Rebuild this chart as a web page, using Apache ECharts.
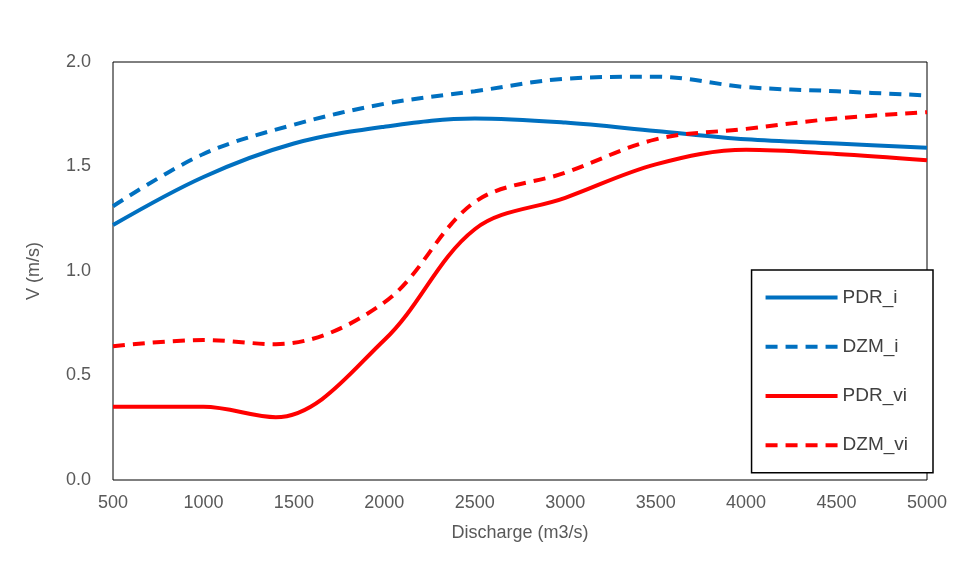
<!DOCTYPE html>
<html>
<head>
<meta charset="utf-8">
<script src="https://cdn.jsdelivr.net/npm/echarts@6/dist/echarts.min.js"></script>
<style>html,body{margin:0;padding:0;background:#fff}#c{width:957px;height:580px}</style>
</head>
<body>
<div id="c"></div>
<script>
// 流量 (m3/s)
const discharge = [500, 1000, 1500, 2000, 2500, 3000, 3500, 4000, 4500, 5000]
const dischargeVi = [500, 1000, 1400, 2000, 2500, 3000, 3500, 4000, 4500, 5000]
const pdrI = [1.22, 1.45, 1.61, 1.69, 1.73, 1.71, 1.67, 1.63, 1.61, 1.59]
const dzmI = [1.31, 1.56, 1.70, 1.80, 1.86, 1.92, 1.93, 1.88, 1.86, 1.84]
const pdrVi = [0.35, 0.35, 0.30, 0.67, 1.20, 1.35, 1.51, 1.58, 1.56, 1.53]
const dzmVi = [0.64, 0.67, 0.65, 0.85, 1.33, 1.47, 1.63, 1.68, 1.73, 1.76]

const chart = echarts.init(document.getElementById('c'))

function line(name, xs, ys, color, dashed) {
  return {
    name, type: 'line', smooth: 0.35, symbol: 'none',
    data: xs.map((x, i) => [x, ys[i]]),
    lineStyle: { color, width: 4, type: dashed ? [12, 8] : 'solid' },
    itemStyle: { color }
  }
}

chart.setOption({
  animation: false,
  textStyle: { fontFamily: 'Liberation Sans, Arial' },
  grid: { left: 113, right: 30, top: 62, bottom: 100, show: true, borderColor: '#000', borderWidth: 1 },
  legend: {
    orient: 'vertical', right: 24, top: 270, itemGap: 30, itemWidth: 72, itemHeight: 24,
    padding: [18, 25, 18, 12], borderColor: '#000', borderWidth: 1.5, backgroundColor: '#fff',
    itemStyle: { opacity: 0 }, lineStyle: { width: 4 },
    textStyle: { fontSize: 19, color: '#404040' },
    data: ['PDR_i', 'DZM_i', 'PDR_vi', 'DZM_vi']
  },
  xAxis: {
    type: 'value', min: 500, max: 5000, interval: 500,
    name: 'Discharge (m3/s)', nameLocation: 'middle', nameGap: 44,
    nameTextStyle: { fontSize: 18, color: '#595959' },
    axisLine: { show: false }, axisTick: { show: false }, splitLine: { show: false },
    axisLabel: { fontSize: 18, color: '#595959', margin: 14, formatter: v => String(v) }
  },
  yAxis: {
    type: 'value', min: 0, max: 2, interval: 0.5,
    name: 'V (m/s)', nameLocation: 'middle', nameGap: 70,
    nameTextStyle: { fontSize: 18, color: '#595959' },
    axisLine: { show: false }, axisTick: { show: false }, splitLine: { show: false },
    axisLabel: { fontSize: 18, color: '#595959', margin: 22, formatter: v => v.toFixed(1) }
  },
  series: [
    line('PDR_i', discharge, pdrI, '#0070C0', false),
    line('DZM_i', discharge, dzmI, '#0070C0', true),
    line('PDR_vi', dischargeVi, pdrVi, '#FF0000', false),
    line('DZM_vi', dischargeVi, dzmVi, '#FF0000', true)
  ]
})
</script>
</body>
</html>
